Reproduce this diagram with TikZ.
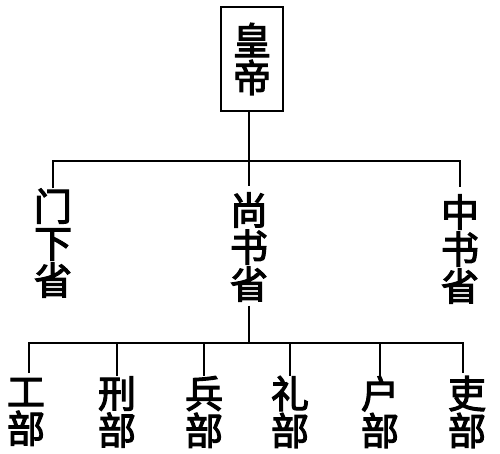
\documentclass[tikz,border=0pt]{standalone}
\usepackage{fontspec}
\newfontfamily\cjk{Noto Sans CJK SC}[FakeBold=3]
\begin{document}
\begin{tikzpicture}[x=1pt, y=-1pt]

\tikzstyle{box1}=[rectangle, draw, line width=1.8pt, minimum width=62pt, minimum height=104pt, inner sep=0pt, align=center, font=\cjk\fontsize{38}{37}\selectfont]
\tikzstyle{box2}=[inner sep=0pt, align=center, font=\cjk\fontsize{38}{37}\selectfont]
\tikzstyle{line}=[line width=2pt]

\useasboundingbox (0,0) rectangle (500,454);

\node (A) [box1] at (252,59)   {皇\\帝};

\node (B) [box2] at (53,243)   {门\\下\\省};
\node (C) [box2] at (249,247)  {尚\\书\\省};
\node (D) [box2] at (460,249)  {中\\书\\省};

\node (E) [box2] at (26,412)   {工\\部};
\node (F) [box2] at (117,412)  {刑\\部};
\node (G) [box2] at (204,412)  {兵\\部};
\node (H) [box2] at (290,412)  {礼\\部};
\node (I) [box2] at (380,412)  {户\\部};
\node (J) [box2] at (467,412)  {吏\\部};

\coordinate (bus1) at (249,161);
\coordinate (bus2) at (249,343);

\draw [line, shorten >=6pt] (C.north |- A.south) -- (C.north);
\draw [line, shorten >=7pt] (B.north) -- (B.north |- bus1) -- (D.north |- bus1) -- (D.north);

\draw [line, shorten <=4pt] (C.south) -- (bus2);
\draw [line] (29,373) -- (bus2 -| 29,0) -- (bus2 -| 463,0) -- (463,373);
\draw [line] (F.north) -- (F.north |- bus2);
\draw [line] (G.north) -- (G.north |- bus2);
\draw [line] (H.north) -- (H.north |- bus2);
\draw [line] (I.north) -- (I.north |- bus2);

\end{tikzpicture}
\end{document}
